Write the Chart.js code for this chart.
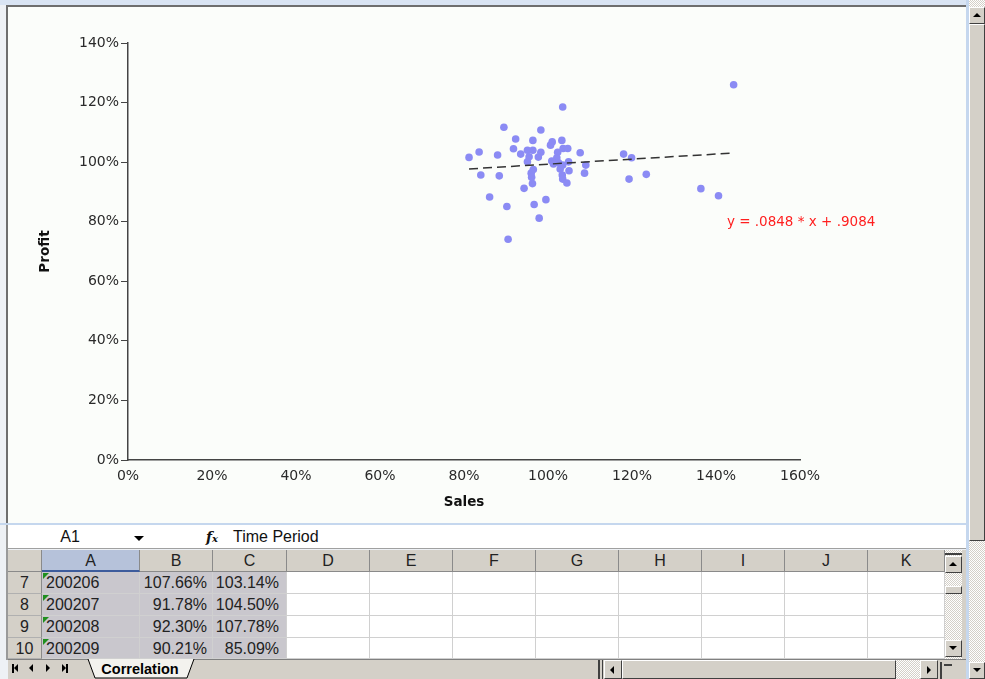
<!DOCTYPE html>
<html>
<head>
<meta charset="utf-8">
<script src="https://cdn.jsdelivr.net/npm/chart.js@4.4.0/dist/chart.umd.min.js"></script>
<style>
  body { margin: 0; width: 985px; height: 679px; position: relative; overflow: hidden;
         background: #eef1f5; font-family: "Liberation Sans", Arial, sans-serif; }
  .abs { position: absolute; box-sizing: border-box; }
  .checker { background: repeating-conic-gradient(#d4d0c8 0% 25%, #ffffff 0% 50%) 0 0 / 2px 2px; }
  .btn { background: #d4d0c8; border: 1px solid; border-color: #ffffff #404040 #404040 #ffffff; }
  .tri-up { width: 0; height: 0; border-left: 4px solid transparent; border-right: 4px solid transparent; border-bottom: 4px solid #000; }
  .tri-down { width: 0; height: 0; border-left: 4px solid transparent; border-right: 4px solid transparent; border-top: 4px solid #000; }
  .tri-left { width: 0; height: 0; border-top: 4px solid transparent; border-bottom: 4px solid transparent; border-right: 4px solid #000; }
  .tri-right { width: 0; height: 0; border-top: 4px solid transparent; border-bottom: 4px solid transparent; border-left: 4px solid #000; }
  .hdr { background: #d4d0c8; border-right: 1px solid #8a8a8a; border-bottom: 1px solid #8a8a8a;
         font-size: 16px; color: #222; text-align: center; line-height: 21px; }
  .cell { border-right: 1px solid #d0d0d0; border-bottom: 1px solid #d0d0d0; font-size: 16px; color: #222;
          line-height: 21px; white-space: nowrap; overflow: hidden; background: #fff; }
  .sel { background: #c9c7cd; }
</style>
</head>
<body>

<!-- chart window -->
<div class="abs" style="left:0;top:0;width:969px;height:5px;background:#d9e4f3;"></div>
<div class="abs" style="left:6px;top:5px;width:960px;height:518px;background:#fbfdfa;border-top:2px solid #6e6e6e;border-left:2px solid #6e6e6e;"></div>
<div class="abs" style="left:8px;top:8px;width:958px;height:514px;">
  <canvas id="scatterChart"></canvas>
</div>
<div class="abs" style="left:0;top:523px;width:969px;height:2px;background:#c5d7ee;"></div>
<div class="abs" style="left:966px;top:0;width:3px;height:679px;background:#c5d7ee;"></div>

<!-- window scrollbar -->
<div class="abs checker" style="left:969px;top:0;width:16px;height:679px;"></div>
<div class="abs btn" style="left:969px;top:7px;width:16px;height:17px;"><div class="tri-up" style="margin:5px 0 0 3px;"></div></div>
<div class="abs btn" style="left:969px;top:24px;width:16px;height:517px;"></div>
<div class="abs btn" style="left:969px;top:662px;width:16px;height:17px;"><div class="tri-down" style="margin:5px 0 0 3px;"></div></div>

<!-- formula bar -->
<div class="abs" style="left:6px;top:525px;width:2px;height:135px;background:#9a9a9a;"></div>
<div class="abs" style="left:8px;top:525px;width:958px;height:24px;background:#fff;border-bottom:1px solid #a0a0a0;"></div>
<div class="abs" style="left:8px;top:526px;width:124px;height:22px;font-size:16px;line-height:22px;text-align:center;color:#111;">A1</div>
<div class="abs tri-down" style="left:134px;top:536px;border-left-width:5px;border-right-width:5px;border-top-width:5px;"></div>
<div class="abs" style="left:206px;top:526px;height:22px;font:italic bold 14px 'DejaVu Serif',serif;line-height:22px;color:#111;">f<span style="font-size:10px;">x</span></div>
<div class="abs" style="left:233px;top:526px;height:22px;font-size:16px;line-height:22px;color:#111;">Time Period</div>

<!-- grid -->
<div id="grid"></div>

<!-- grid vertical scrollbar -->
<div class="abs checker" style="left:945px;top:550px;width:17px;height:109px;"></div>
<div class="abs" style="left:945px;top:553px;width:17px;height:2px;background:#404040;"></div>
<div class="abs btn" style="left:945px;top:556px;width:17px;height:17px;"><div class="tri-up" style="margin:5px 0 0 3px;"></div></div>
<div class="abs btn" style="left:945px;top:586px;width:17px;height:8px;"></div>
<div class="abs btn" style="left:945px;top:640px;width:17px;height:17px;"><div class="tri-down" style="margin:5px 0 0 3px;"></div></div>
<div class="abs" style="left:962px;top:550px;width:4px;height:109px;background:#d4d0c8;"></div>

<!-- sheet tabs -->
<div class="abs" style="left:8px;top:659px;width:958px;height:20px;background:#d4d0c8;border-top:1px solid #808080;"></div>
<div class="abs" style="left:12px;top:664px;width:2px;height:9px;background:#000;"></div>
<div class="abs tri-left" style="left:14px;top:664px;border-top-width:4.5px;border-bottom-width:4.5px;"></div>
<div class="abs tri-left" style="left:29px;top:664px;border-top-width:4.5px;border-bottom-width:4.5px;"></div>
<div class="abs tri-right" style="left:46px;top:664px;border-top-width:4.5px;border-bottom-width:4.5px;"></div>
<div class="abs tri-right" style="left:62px;top:664px;border-top-width:4.5px;border-bottom-width:4.5px;"></div>
<div class="abs" style="left:66px;top:664px;width:2px;height:9px;background:#000;"></div>
<svg class="abs" style="left:86px;top:659px;" width="110" height="20">
  <polygon points="2,0 108,0 101,19 9,19" fill="#f3f2ee"/>
  <polyline points="2,0 9,19 101,19 108,0" fill="none" stroke="#000" stroke-width="1"/>
</svg>
<div class="abs" style="left:96px;top:659px;width:88px;height:20px;font-weight:bold;font-size:14.5px;line-height:20px;text-align:center;color:#000;">Correlation</div>
<div class="abs" style="left:598px;top:660px;width:2px;height:19px;background:#404040;"></div>
<div class="abs" style="left:602px;top:660px;width:1px;height:19px;background:#404040;"></div>
<div class="abs btn" style="left:604px;top:660px;width:18px;height:19px;"><div class="tri-left" style="margin:5px 0 0 5px;"></div></div>
<div class="abs btn" style="left:622px;top:660px;width:274px;height:19px;"></div>
<div class="abs checker" style="left:896px;top:660px;width:24px;height:19px;"></div>
<div class="abs btn" style="left:920px;top:660px;width:18px;height:19px;"><div class="tri-right" style="margin:5px 0 0 6px;"></div></div>
<div class="abs" style="left:940px;top:662px;width:2px;height:17px;background:#404040;"></div>
<div class="abs" style="left:944px;top:664px;width:8px;height:2px;background:#404040;"></div>

<script>
// --- chart data (fractions, formatted as %) ---
const sales = [1.035, 0.895, 0.983, 0.9230, 0.964, 1.010, 1.033, 1.006, 0.9178, 0.951,
               0.964, 0.983, 1.036, 1.047, 1.023, 1.0766, 0.836, 0.812, 0.880, 0.935,
               0.955, 0.977, 1.021, 0.951, 1.009, 1.025, 1.049, 1.013, 1.035, 1.090,
               0.965, 1.029, 1.050, 0.960, 0.840, 0.884, 1.087, 1.034, 0.961, 1.035,
               0.963, 1.045, 0.943, 0.861, 0.995, 0.967, 0.9021, 0.979, 0.905,
               1.442, 1.180, 1.199, 1.234, 1.193, 1.364, 1.406];
const profit = [1.185, 1.117, 1.108, 1.0778, 1.073, 1.068, 1.073, 1.057, 1.0450, 1.040,
                1.040, 1.033, 1.046, 1.046, 1.033, 1.0314, 1.034, 1.016, 1.024, 1.027,
                1.018, 1.017, 1.015, 1.001, 1.004, 0.998, 1.001, 0.994, 0.990, 0.990,
                0.975, 0.977, 0.971, 0.963, 0.957, 0.954, 0.963, 0.957, 0.949, 0.943,
                0.928, 0.930, 0.912, 0.883, 0.874, 0.858, 0.8509, 0.812, 0.741,
                1.260, 1.027, 1.015, 0.959, 0.943, 0.911, 0.887];

// regression from the label
const slope = 0.0848;
const intercept = 0.9084;
const eqText = 'y = .0848 * x + .9084';
const eqAnchor = [1.426, 0.796];

// --- sheet data ---
const rowNumbers = [7, 8, 9, 10];
const periods = ['200206', '200207', '200208', '200209'];
const tableSales = [1.0766, 0.9178, 0.9230, 0.9021];
const tableProfit = [1.0314, 1.0450, 1.0778, 0.8509];
const columns = ['A', 'B', 'C', 'D', 'E', 'F', 'G', 'H', 'I', 'J', 'K'];

// build the sheet grid
const colEdges = [42, 140, 213, 287, 370, 453, 536, 619, 702, 785, 868, 945];
const headerTop = 550, rowH = 22;
const grid = document.getElementById('grid');
const pct = v => (v * 100).toFixed(2) + '%';

function addDiv(cls, left, top, w, h, text, extra) {
    const d = document.createElement('div');
    d.className = 'abs ' + cls;
    d.style.cssText = `left:${left}px;top:${top}px;width:${w}px;height:${h}px;` + (extra || '');
    if (text !== undefined) d.textContent = text;
    grid.appendChild(d);
    return d;
}

addDiv('hdr', 8, headerTop, 34, rowH);
columns.forEach((c, i) => {
    const extra = i === 0 ? 'background:#b6c2da;border-bottom:2px solid #3d5c9c;' : '';
    addDiv('hdr', colEdges[i], headerTop, colEdges[i + 1] - colEdges[i], rowH, c, extra);
});
rowNumbers.forEach((r, ri) => {
    const top = headerTop + rowH * (ri + 1);
    const h = Math.min(rowH, 659 - top);
    addDiv('hdr', 8, top, 34, h, String(r), 'border-bottom-color:#b0b0b0;');
    columns.forEach((c, i) => {
        let text = '', extra = '';
        if (i === 0) { text = periods[ri]; extra = 'padding-left:4px;'; }
        if (i === 1) { text = pct(tableSales[ri]); extra = 'text-align:right;padding-right:5px;'; }
        if (i === 2) { text = pct(tableProfit[ri]); extra = 'text-align:right;padding-right:7px;'; }
        addDiv('cell' + (i < 3 ? ' sel' : ''), colEdges[i], top, colEdges[i + 1] - colEdges[i], h, text, extra);
    });
    // green error-indicator triangle
    addDiv('', colEdges[0] + 1, top + 1, 0, 0, undefined,
        'border-top:6px solid #1f8f1f;border-right:6px solid transparent;');
});

// --- chart ---
const minSales = Math.min(...sales);
const maxSales = Math.max(...sales);
const trendPoints = [minSales, maxSales].map(x => ({ x: x, y: slope * x + intercept }));

const eqLabel = {
    id: 'eqLabel',
    afterDatasetsDraw(chart) {
        const { ctx, scales: { x, y } } = chart;
        ctx.save();
        ctx.font = '13.5px "DejaVu Sans"';
        ctx.fillStyle = '#ff1f1f';
        ctx.textAlign = 'left';
        ctx.textBaseline = 'middle';
        ctx.fillText(eqText, x.getPixelForValue(eqAnchor[0]), y.getPixelForValue(eqAnchor[1]));
        ctx.restore();
    }
};

const tickFont = { family: 'DejaVu Sans', size: 14 };
const titleFont = { family: 'DejaVu Sans', size: 13.5, weight: 'bold' };
const pctLabel = v => Math.round(v * 100) + '%';

new Chart(document.getElementById('scatterChart'), {
    type: 'scatter',
    data: {
        datasets: [
            {
                label: 'Profit vs Sales',
                data: sales.map((s, i) => ({ x: s, y: profit[i] })),
                backgroundColor: '#8b8bf4',
                borderWidth: 0,
                pointRadius: 3.8,
                order: 2
            },
            {
                type: 'line',
                label: 'Trend',
                data: trendPoints,
                borderColor: '#333333',
                borderWidth: 1.5,
                borderDash: [9, 5],
                pointRadius: 0,
                fill: false,
                order: 1
            }
        ]
    },
    options: {
        responsive: true,
        maintainAspectRatio: false,
        animation: false,
        layout: { padding: { left: 0, top: 35, right: 166, bottom: 0 } },
        plugins: {
            legend: { display: false },
            tooltip: { enabled: false }
        },
        scales: {
            x: {
                type: 'linear',
                min: 0,
                max: 1.6,
                ticks: { stepSize: 0.2, padding: 8, color: '#2a2a2a', font: tickFont, callback: pctLabel },
                grid: { display: false, drawTicks: false },
                border: { display: true, color: '#444', width: 1.5 },
                title: { display: true, text: 'Sales', color: '#111', font: titleFont, padding: { top: 0, bottom: 11 } },
                afterFit(scale) { scale.height = 62; }
            },
            y: {
                type: 'linear',
                min: 0,
                max: 1.4,
                ticks: { stepSize: 0.2, padding: 2, color: '#2a2a2a', font: tickFont, callback: pctLabel },
                grid: { display: true, drawOnChartArea: false, drawTicks: true, tickLength: 7, color: '#444', lineWidth: 1 },
                border: { display: true, color: '#444', width: 1.5 },
                title: { display: true, text: 'Profit', color: '#111', font: titleFont, padding: { top: 29, bottom: 0 } },
                afterFit(scale) { scale.width = 120; }
            }
        }
    },
    plugins: [eqLabel]
});
</script>
</body>
</html>
